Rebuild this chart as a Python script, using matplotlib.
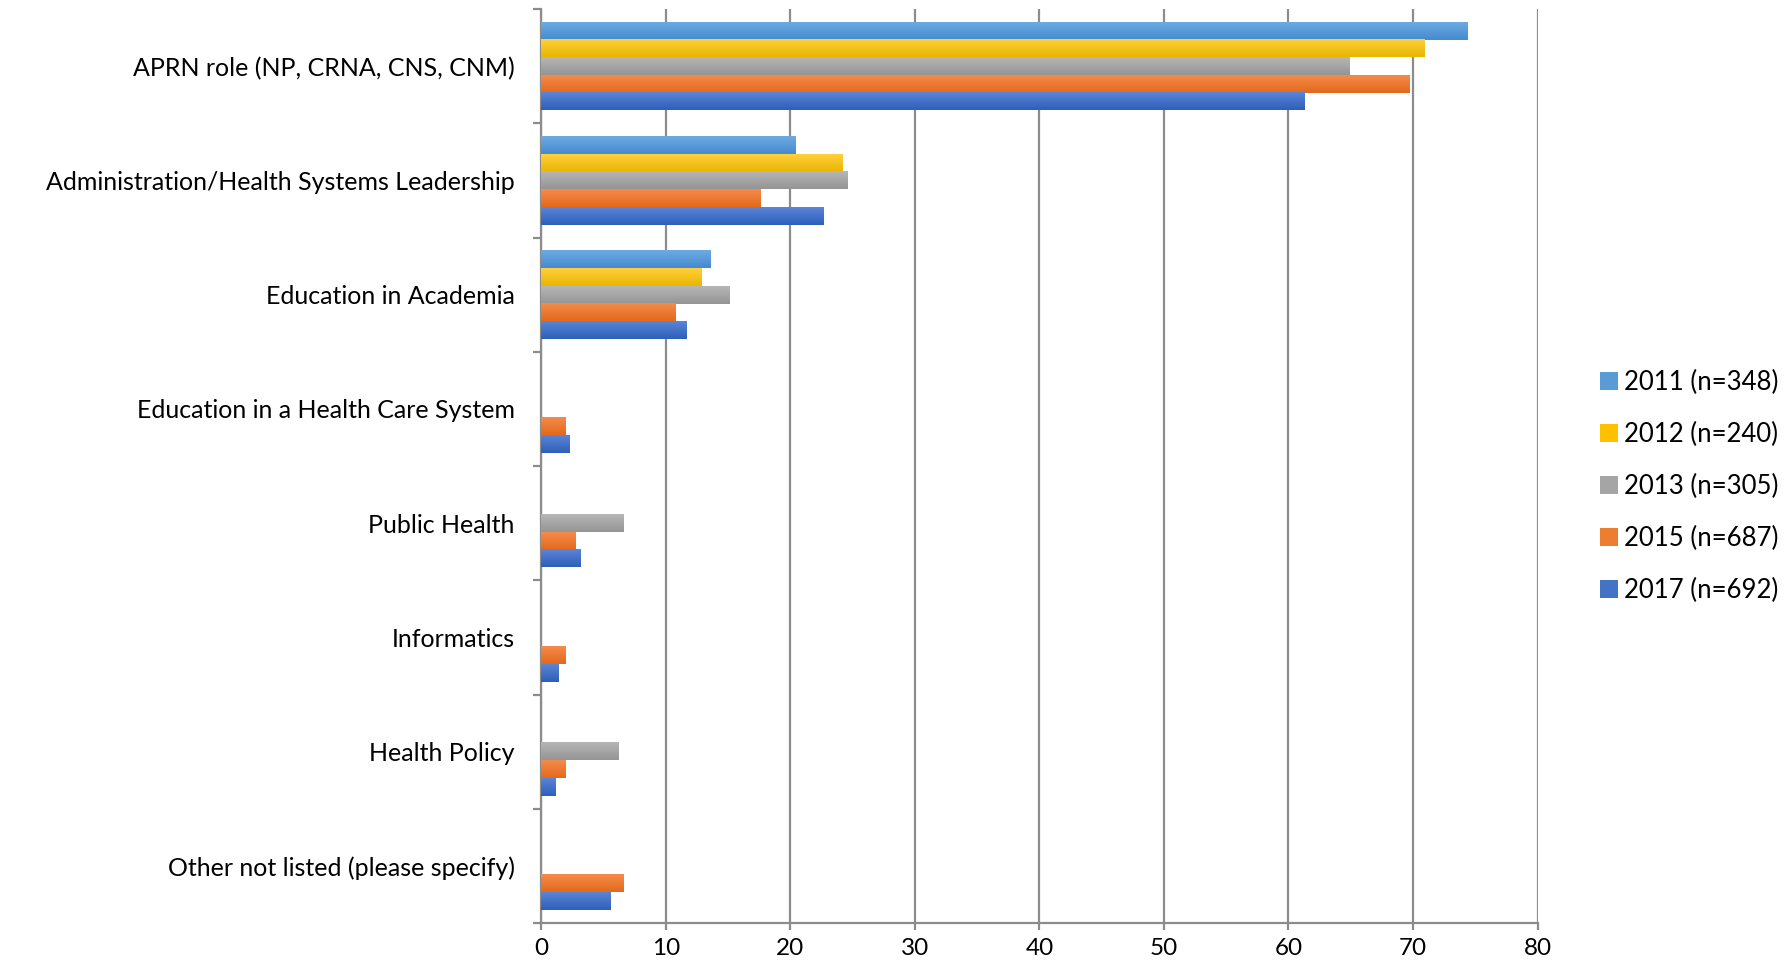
import numpy as np
import matplotlib
matplotlib.use("Agg")
import matplotlib.pyplot as plt
from matplotlib.colors import LinearSegmentedColormap
from matplotlib.patches import Patch

plt.rcParams["font.family"] = ["Lato", "DejaVu Sans"]

# Categories (top to bottom)
categories = [
    "APRN role (NP, CRNA, CNS, CNM)",
    "Administration/Health Systems Leadership",
    "Education in Academia",
    "Education in a Health Care System",
    "Public Health",
    "Informatics",
    "Health Policy",
    "Other not listed (please specify)",
]

series_names = ["2011 (n=348)", "2012 (n=240)", "2013 (n=305)", "2015 (n=687)", "2017 (n=692)"]

v2011 = [74.4, 20.4, 13.6, 0, 0, 0, 0, 0]
v2012 = [70.9, 24.2, 12.9, 0, 0, 0, 0, 0]
v2013 = [64.9, 24.6, 15.1, 0, 6.6, 0, 6.2, 0]
v2015 = [69.7, 17.6, 10.8, 1.95, 2.75, 1.95, 1.95, 6.6]
v2017 = [61.3, 22.7, 11.7, 2.25, 3.15, 1.4, 1.15, 5.55]
series_values = [v2011, v2012, v2013, v2015, v2017]

# gradient colours (top, bottom) per series
grad_colors = [
    ("#6eaae2", "#448bcf"),
    ("#ffd03c", "#e9b600"),
    ("#b6b6b6", "#959595"),
    ("#f58b4b", "#e3691b"),
    ("#5a84d6", "#2e60ba"),
]
mid_colors = ["#5b9bd5", "#ffc000", "#a5a5a5", "#ed7d31", "#4472c4"]

fig = plt.figure(figsize=(17.92, 9.73), dpi=100)
ax = fig.add_axes([0.302, 0.0514, 0.556, 0.9393])

y = np.arange(len(categories))
bar_h = 0.155

for i, vals in enumerate(series_values):
    offs = y + (i - 2) * bar_h
    bars = ax.barh(offs, vals, height=bar_h, color=mid_colors[i], zorder=3)
    cmap = LinearSegmentedColormap.from_list("g%d" % i, list(grad_colors[i]))
    for b in bars:
        w = b.get_width()
        if w <= 0:
            continue
        y0 = b.get_y()
        h = b.get_height()
        # y axis is inverted: y0 is the top edge on screen
        ax.imshow(np.linspace(0, 1, 32).reshape(-1, 1), cmap=cmap, aspect="auto",
                  extent=(0, w, y0 + h, y0), origin="upper", zorder=4,
                  interpolation="bilinear")

ax.set_xlim(0, 80)
ax.set_ylim(len(categories) - 0.5, -0.5)
ax.set_xticks(np.arange(0, 81, 10))
ax.set_yticks(y)
ax.set_yticklabels(categories)
ax.set_yticks(np.arange(-0.5, len(categories)), minor=True)

gray = "#8c8c8c"
ax.grid(axis="x", color=gray, linewidth=1.6, zorder=0)
ax.set_axisbelow(True)
for s in ["top", "right"]:
    ax.spines[s].set_visible(False)
for s in ["left", "bottom"]:
    ax.spines[s].set_color(gray)
    ax.spines[s].set_linewidth(1.6)

ax.tick_params(axis="y", which="major", length=0, pad=19, labelsize=18)
ax.tick_params(axis="y", which="minor", length=6, width=1.6, color=gray)
ax.tick_params(axis="x", length=5, width=1.6, color=gray, labelsize=17.5, pad=6)

handles = [Patch(facecolor=c) for c in mid_colors]
fig.legend(handles, series_names, loc="center left", bbox_to_anchor=(0.88, 0.50),
           frameon=False, fontsize=18.5, handlelength=0.7, handleheight=0.7,
           handletextpad=0.25, labelspacing=1.05)

fig.savefig("out.png", dpi=100)
